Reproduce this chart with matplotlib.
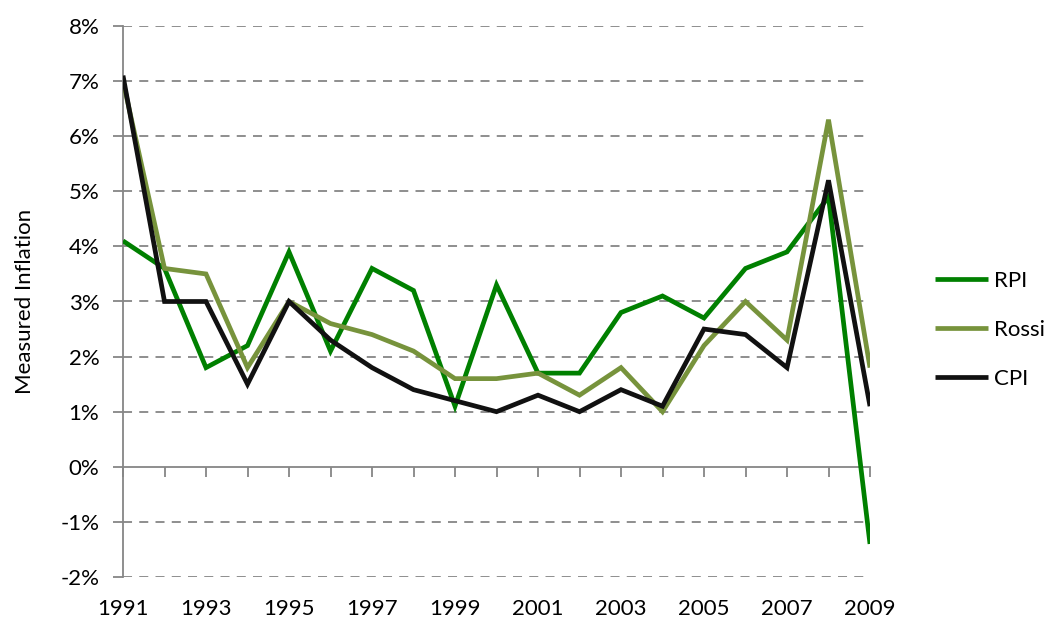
import matplotlib
matplotlib.use("Agg")
import matplotlib.pyplot as plt
from matplotlib.ticker import FuncFormatter, MultipleLocator

years = list(range(1991, 2010))
rpi = [4.1, 3.6, 1.8, 2.2, 3.9, 2.1, 3.6, 3.2, 1.1, 3.3, 1.7, 1.7, 2.8, 3.1, 2.7, 3.6, 3.9, 4.9, -1.4]
rossi = [7.0, 3.6, 3.5, 1.8, 3.0, 2.6, 2.4, 2.1, 1.6, 1.6, 1.7, 1.3, 1.8, 1.0, 2.2, 3.0, 2.3, 6.3, 1.8]
cpi = [7.1, 3.0, 3.0, 1.5, 3.0, 2.3, 1.8, 1.4, 1.2, 1.0, 1.3, 1.0, 1.4, 1.1, 2.5, 2.4, 1.8, 5.2, 1.1]
series_names = ["RPI", "Rossi", "CPI"]
series_colors = ["#008000", "#77933C", "#111111"]
label_years = list(range(1991, 2010, 2))

plt.rcParams['font.family'] = ['Lato', 'DejaVu Sans']

fig = plt.figure(figsize=(10.51, 6.30), dpi=100)
ax = fig.add_axes([123/1051, 1 - 577/630, (870 - 123)/1051, (577 - 26)/630])

grid_c = "#868686"
for lvl in range(-2, 9):
    if lvl == 0:
        continue
    ax.axhline(lvl, color=grid_c, lw=1.3, ls=(0, (5, 4)), zorder=1)

for vals, name, col in zip([rpi, rossi, cpi], series_names, series_colors):
    ax.plot(years, vals, color=col, lw=3.4, label=name, zorder=3,
            solid_joinstyle='miter', solid_capstyle='butt')

ax.set_xlim(1991, 2009)
ax.set_ylim(-2, 8)

for s in ['top', 'right']:
    ax.spines[s].set_visible(False)
ax.spines['bottom'].set_position(('data', 0))
ax.spines['bottom'].set_color(grid_c)
ax.spines['bottom'].set_linewidth(1.3)
ax.spines['left'].set_color(grid_c)
ax.spines['left'].set_linewidth(1.3)
ax.spines['bottom'].set_zorder(2)

ax.set_xticks(years)
ax.tick_params(axis='x', direction='out', length=7, width=1.3, color=grid_c, labelbottom=False)
ax.yaxis.set_major_locator(MultipleLocator(1))
ax.yaxis.set_major_formatter(FuncFormatter(lambda v, p: f"{int(round(v))}%"))
ax.tick_params(axis='y', direction='out', length=7, width=1.3, color=grid_c, pad=10, labelsize=16)

sec = ax.secondary_xaxis(0)
sec.set_xticks(label_years)
sec.set_xticklabels([str(y) for y in label_years])
sec.tick_params(axis='x', length=0, pad=16, labelsize=16)
sec.spines['bottom'].set_visible(False)

ax.set_ylabel("Measured Inflation", fontsize=16, labelpad=18)

leg = ax.legend(loc='center left', bbox_to_anchor=(935/1051, 1 - 330/630),
                bbox_transform=fig.transFigure, frameon=False, fontsize=16,
                handlelength=2.4, handletextpad=0.25, labelspacing=1.3,
                borderpad=0, borderaxespad=0)

fig.savefig("out.png", dpi=100)
